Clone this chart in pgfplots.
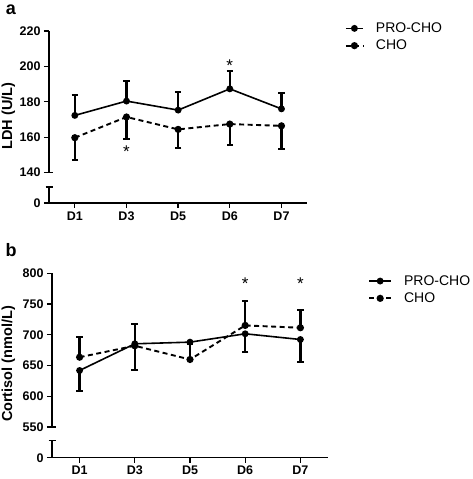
\documentclass[border=0pt]{standalone}
\usepackage{fontspec}
\setmainfont{Liberation Sans}
\usepackage{pgfplots}
\pgfplotsset{compat=1.18}
\begin{document}
\begin{tikzpicture}
\path[use as bounding box] (0pt,0pt) rectangle (472pt,479pt);
\pgfplotsset{
 myaxis/.style={
  scale only axis,
  axis x line=bottom, axis y line=left,
  axis line style={-, line width=1.4pt, black},
  y axis line style={draw=none},
  xmin=0.5, xmax=5.5,
  xtick={1,2,3,4,5}, xticklabels={D1,D3,D5,D6,D7},
  tick align=outside, major tick length=5pt,
  tick style={line width=1.3pt, black},
  ticklabel style={font=\bfseries\fontsize{12.5}{12.5}\selectfont},
  /pgf/number format/assume math mode=true,
  clip=false,
  legend cell align=left,
  legend style={draw=none, fill=none, inner sep=0pt, anchor=north west,
    font=\fontsize{14}{14}\selectfont, row sep=4pt,
    nodes={inner sep=1pt},
    /tikz/every odd column/.append style={column sep=11pt}},
 },
 pro/.style={black, line width=1.6pt, mark=*, mark size=2.6pt, mark options={solid},
   error bars/y explicit,
   error bars/error bar style={line width=2.3pt, solid},
   error bars/error mark options={rotate=90, line width=2pt, mark size=3.3pt, solid}},
 cho/.style={black, line width=1.9pt, dash pattern=on 5pt off 3.5pt, mark=*, mark size=2.6pt, mark options={solid},
   error bars/y explicit,
   error bars/error bar style={line width=2.3pt, solid},
   error bars/error mark options={rotate=90, line width=2pt, mark size=3.3pt, solid}},
}
% ---------------- panel a ----------------
\begin{axis}[myaxis, at={(49pt,276pt)}, anchor=south west,
  width=258.3pt, height=172pt,
  ymin=122.8, ymax=220,
  ytick={122.8,140,160,180,200,220}, yticklabels={0,140,160,180,200,220},
  legend style={at={(axis description cs:1.145,1.055)}}]
\addplot+[pro, error bars/y dir=plus] coordinates {(1,172.3) +- (0,11.5) (2,180.4) +- (0,11.5) (3,175.3) +- (0,10.0) (4,187.3) +- (0,9.9) (5,176.0) +- (0,8.7)};
\addlegendentry{PRO-CHO}
\addplot+[cho, error bars/y dir=minus] coordinates {(1,159.7) +- (0,12.8) (2,171.4) +- (0,12.6) (3,164.4) +- (0,10.4) (4,167.4) +- (0,11.7) (5,166.4) +- (0,13.1)};
\addlegendentry{CHO}
\draw[line width=1.4pt] (axis cs:0.5,140) -- (axis cs:0.5,220);
\draw[line width=1.4pt] (axis cs:0.5,122.8) -- (axis cs:0.5,131.8);
\draw[line width=1.3pt] ([xshift=-3.5pt]axis cs:0.5,131.8) -- ([xshift=3.5pt]axis cs:0.5,131.8);
\draw[line width=1.3pt] (axis cs:0.5,140) -- ([xshift=3.5pt]axis cs:0.5,140);
\node[font=\fontsize{17}{17}\selectfont] at (axis cs:4,200.5) {*};
\node[font=\fontsize{17}{17}\selectfont] at (axis cs:2,152.0) {*};
\end{axis}
% ---------------- panel b ----------------
\begin{axis}[myaxis, at={(52pt,21.3pt)}, anchor=south west,
  width=276pt, height=184.4pt,
  ymin=500, ymax=800,
  ytick={500,550,600,650,700,750,800}, yticklabels={0,550,600,650,700,750,800},
  legend image code/.code={\draw[mark repeat=2,mark phase=2,#1] plot coordinates {(0pt,0pt) (11pt,0pt) (22pt,0pt)};},
  legend style={at={(axis description cs:1.145,0.995)}}]
\addplot+[pro, error bars/y dir=minus] coordinates {(1,641.9) +- (0,33) (2,685.3) +- (0,42) (3,688.0) +- (0,28) (4,701.6) +- (0,30) (5,692.3) +- (0,36.3)};
\addlegendentry{PRO-CHO}
\addplot+[cho, error bars/y dir=plus] coordinates {(1,663.5) +- (0,32.5) (2,682.1) +- (0,34.7) (3,659.8) +- (0,25) (4,715.2) +- (0,39.5) (5,711.4) +- (0,28.2)};
\addlegendentry{CHO}
\draw[line width=1.4pt] (axis cs:0.5,550) -- (axis cs:0.5,800);
\draw[line width=1.4pt] (axis cs:0.5,500) -- (axis cs:0.5,527.7);
\draw[line width=1.3pt] ([xshift=-3.5pt]axis cs:0.5,527.7) -- ([xshift=3.5pt]axis cs:0.5,527.7);
\draw[line width=1.3pt] (axis cs:0.5,550) -- ([xshift=3.5pt]axis cs:0.5,550);
\node[font=\fontsize{17}{17}\selectfont] at (axis cs:4,783) {*};
\node[font=\fontsize{17}{17}\selectfont] at (axis cs:5,783) {*};
\end{axis}
% labels
\node[rotate=90, font=\bfseries\fontsize{14.5}{14.5}\selectfont] at (8.5pt,363pt) {LDH (U/L)};
\node[rotate=90, font=\bfseries\fontsize{14.5}{14.5}\selectfont] at (8.5pt,115pt) {Cortisol (nmol/L)};
\node[font=\bfseries\fontsize{18}{18}\selectfont] at (11pt,469pt) {a};
\node[font=\bfseries\fontsize{18}{18}\selectfont] at (11pt,229pt) {b};
\end{tikzpicture}
\end{document}
